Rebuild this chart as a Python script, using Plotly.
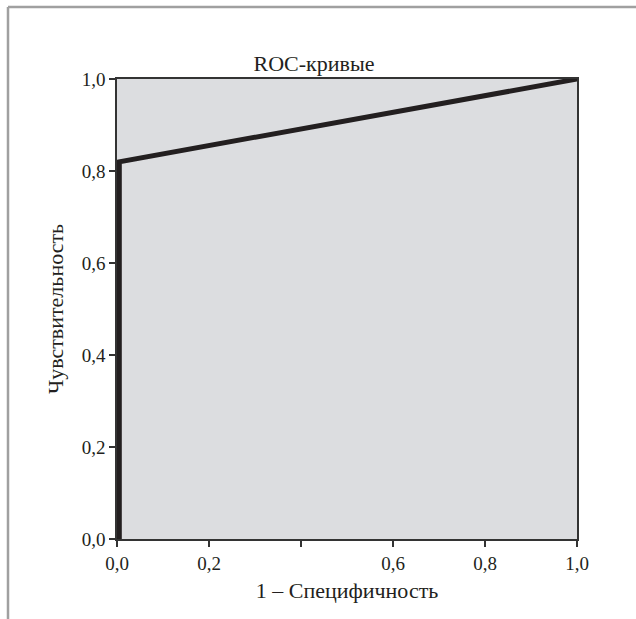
import plotly.graph_objects as go

# ROC curve data
fpr = [0.005, 0.005, 1.0]
tpr = [0.0, 0.82, 1.0]

x_tickvals = [0.0, 0.2, 0.4, 0.6, 0.8, 1.0]
x_ticktext = ["0,0", "0,2", "", "0,6", "0,8", "1,0"]
y_tickvals = [0.0, 0.2, 0.4, 0.6, 0.8, 1.0]
y_ticktext = ["0,0", "0,2", "0,4", "0,6", "0,8", "1,0"]

title_text = "ROC-кривые"
x_title = "1 – Специфичность"
y_title = "Чувствительность"

W, H = 636, 619
L, R, T, B = 117, 59, 79, 80
pw = W - L - R
ph = H - T - B

ink = "#231f20"
font_family = "Liberation Serif, Times New Roman, serif"

fig = go.Figure()
fig.add_trace(go.Scatter(
    x=fpr, y=tpr, mode="lines",
    line=dict(color=ink, width=5),
    hoverinfo="skip", showlegend=False,
))

def px_to_paper_x(px):
    return (px - L) / pw

def px_to_paper_y(py):
    return (H - B - py) / ph

frame = "#a0a0a0"
fig.add_shape(type="line", xref="paper", yref="paper",
              x0=px_to_paper_x(8), x1=px_to_paper_x(640),
              y0=px_to_paper_y(7), y1=px_to_paper_y(7),
              line=dict(color=frame, width=2.5))
fig.add_shape(type="line", xref="paper", yref="paper",
              x0=px_to_paper_x(8), x1=px_to_paper_x(8),
              y0=px_to_paper_y(7), y1=px_to_paper_y(619),
              line=dict(color=frame, width=2.5))

axis_common = dict(
    showgrid=False, zeroline=False,
    showline=True, linecolor="#333333", linewidth=1.5, mirror=True,
    ticks="outside", ticklen=6, tickwidth=1.5, tickcolor="#333333",
    tickfont=dict(family=font_family, size=19, color=ink),
    range=[0, 1], fixedrange=True,
)

fig.update_layout(
    width=W, height=H,
    margin=dict(l=L, r=R, t=T, b=B, pad=0),
    paper_bgcolor="white",
    plot_bgcolor="#dcdde0",
    font=dict(family=font_family, color=ink),
    title=dict(text=title_text, x=314 / W, xanchor="center",
               y=1 - 63 / H, yanchor="middle",
               font=dict(family=font_family, size=22, color=ink)),
    xaxis=dict(**axis_common, tickvals=x_tickvals, ticktext=x_ticktext,
               title=dict(text=x_title, standoff=10,
                          font=dict(family=font_family, size=22, color=ink))),
    yaxis=dict(**axis_common, tickvals=y_tickvals, ticktext=y_ticktext,
               title=dict(text=y_title, standoff=12,
                          font=dict(family=font_family, size=22, color=ink))),
)

fig.write_html("out.html")
